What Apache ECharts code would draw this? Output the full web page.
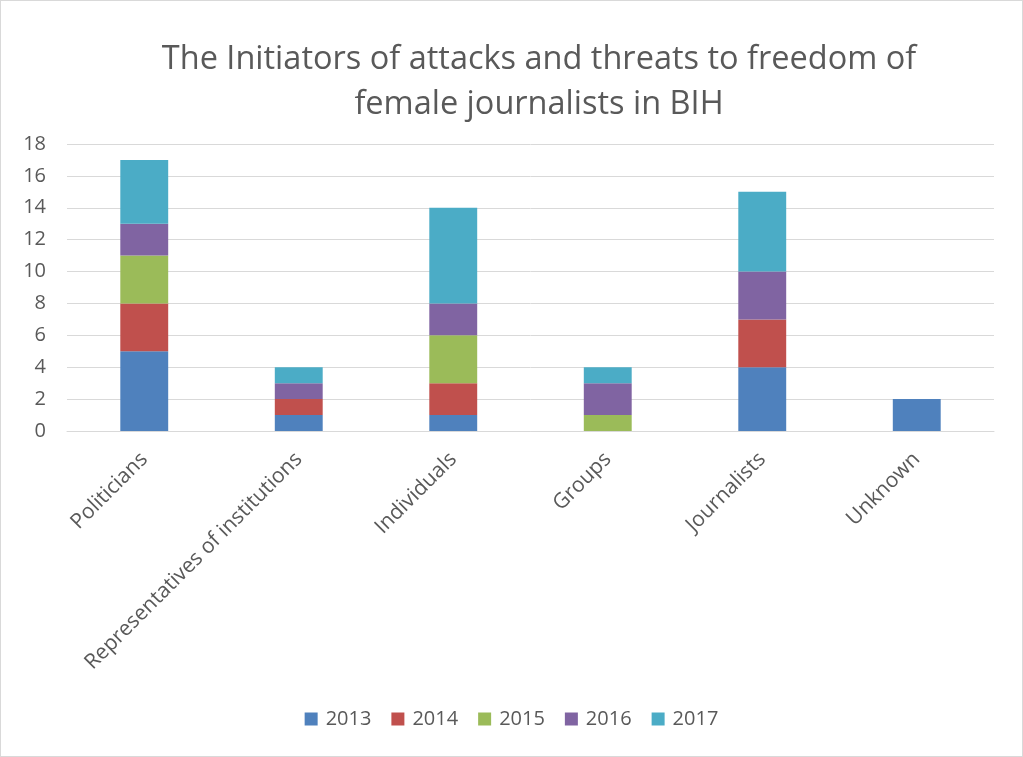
<!DOCTYPE html>
<html>
<head>
<meta charset="utf-8">
<script src="https://cdn.jsdelivr.net/npm/echarts@6/dist/echarts.min.js"></script>
<style>
html,body{margin:0;padding:0;background:#fff;}
#c{width:1021px;height:755px;border:1px solid #d9d9d9;}
</style>
</head>
<body>
<div id="c"></div>
<script>
const categories = ['Politicians','Representatives of institutions','Individuals','Groups','Journalists','Unknown'];
const years = ['2013','2014','2015','2016','2017'];
const v2013 = [5,1,1,0,4,2];
const v2014 = [3,1,2,0,3,0];
const v2015 = [3,0,3,1,0,0];
const v2016 = [2,1,2,2,3,0];
const v2017 = [4,1,6,1,5,0];
const colors = ['#4f81bd','#c0504d','#9bbb59','#8064a2','#4bacc6'];
const seriesData = [v2013,v2014,v2015,v2016,v2017];

const chart = echarts.init(document.getElementById('c'));
chart.setOption({
  animation:false,
  title:{
    text:'The Initiators of attacks and threats to freedom of\nfemale journalists in BIH',
    left:533, top:31, textAlign:'center',
    textStyle:{fontFamily:'Open Sans',fontSize:32.5,fontWeight:'normal',color:'#595959',lineHeight:45}
  },
  legend:{
    bottom:22, left:'center', itemWidth:13, itemHeight:13, itemGap:20,
    icon:'rect',
    textStyle:{fontFamily:'Open Sans',fontSize:20,color:'#595959',padding:[0,0,0,3]},
    data:years
  },
  grid:{left:66,right:28,top:143,bottom:325,containLabel:false},
  xAxis:{
    type:'category', data:categories,
    axisLine:{lineStyle:{color:'#d9d9d9'}},
    axisTick:{show:false},
    axisLabel:{rotate:45,interval:0,fontFamily:'Open Sans',fontSize:21,color:'#595959',margin:25}
  },
  yAxis:{
    type:'value', min:0, max:18, interval:2,
    axisLine:{show:false}, axisTick:{show:false},
    splitLine:{lineStyle:{color:'#d9d9d9'}},
    axisLabel:{fontFamily:'Open Sans',fontSize:20,color:'#595959',margin:21}
  },
  series: years.map((y,i)=>({
    name:y, type:'bar', stack:'total', data:seriesData[i],
    barWidth:'31%', itemStyle:{color:colors[i]}
  }))
});
</script>
</body>
</html>
